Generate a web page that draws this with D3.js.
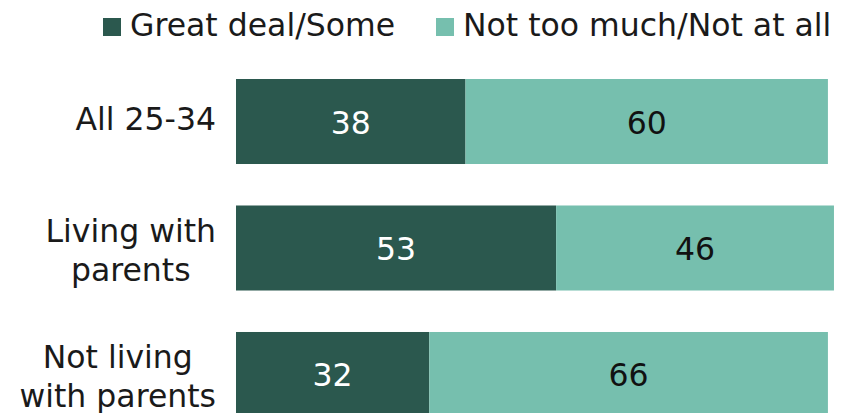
<!DOCTYPE html>
<html>
<head>
<meta charset="utf-8">
<script src="https://cdn.jsdelivr.net/npm/d3@7"></script>
<style>
  html, body { margin: 0; padding: 0; background: #ffffff; }
  svg { display: block; }
  text { font-family: "DejaVu Sans", Verdana, sans-serif; }
</style>
</head>
<body>
<svg id="chart" width="848" height="413"></svg>
<script>
// Groups shown on the vertical axis (line breaks as "\n")
const categories = ["All 25-34", "Living with\nparents", "Not living\nwith parents"];
// Series
const seriesNames = ["Great deal/Some", "Not too much/Not at all"];
const greatDealSome = [38, 53, 32];
const notTooMuch = [60, 46, 66];

const colors = ["#2b584e", "#76bfae"];
const labelColors = ["#ffffff", "#111111"];

const W = 848, H = 413;
const fontSize = 31.5;
const svg = d3.select("#chart");

const x = d3.scaleLinear().domain([0, 100]).range([236, 840]);
const y = d3.scaleBand().domain(categories).range([79, 417]).paddingInner(0.328).paddingOuter(0);

// Stack the two series per group
const rows = categories.map((c, i) => ({ cat: c, s0: greatDealSome[i], s1: notTooMuch[i] }));
const stacked = d3.stack().keys(["s0", "s1"])(rows);

const layers = svg.append("g").selectAll("g")
  .data(stacked).join("g")
  .attr("fill", (d, i) => colors[i]);

layers.selectAll("rect")
  .data(d => d)
  .join("rect")
  .attr("x", d => x(d[0]))
  .attr("width", d => x(d[1]) - x(d[0]))
  .attr("y", d => y(d.data.cat))
  .attr("height", y.bandwidth());

// Value labels centred in each segment
stacked.forEach((layer, li) => {
  svg.append("g").selectAll("text")
    .data(layer).join("text")
    .attr("x", d => (x(d[0]) + x(d[1])) / 2)
    .attr("y", d => y(d.data.cat) + y.bandwidth() / 2 + 12)
    .attr("text-anchor", "middle")
    .attr("font-size", fontSize)
    .attr("fill", labelColors[li])
    .text(d => d[1] - d[0]);
});

// Category axis: no domain line, no ticks; multi-line labels centred per line
const axis = svg.append("g")
  .attr("transform", "translate(216,0)")
  .call(d3.axisLeft(y).tickSize(0).tickPadding(0));
axis.select(".domain").remove();
axis.selectAll(".tick text").each(function (d) {
  const t = d3.select(this);
  const lines = d.split("\n");
  t.text(null)
    .attr("fill", "#1a1a1a")
    .attr("font-size", fontSize)
    .attr("font-family", "DejaVu Sans, Verdana, sans-serif")
    .attr("dy", null)
    .attr("x", 0);
  const lineH = 38.5;
  const firstY = y.bandwidth() / 2 + 8 - (lines.length - 1) * 14 - y.bandwidth() / 2;
  const spans = lines.map((ln, k) =>
    t.append("tspan").attr("y", firstY + k * lineH).text(ln));
  const widths = spans.map(s => s.node().getComputedTextLength());
  const maxW = d3.max(widths);
  t.attr("text-anchor", "middle");
  spans.forEach(s => s.attr("x", -maxW / 2));
});

// Legend
const legendX = [103, 436];
const legend = svg.append("g").selectAll("g")
  .data(seriesNames).join("g")
  .attr("transform", (d, i) => `translate(${legendX[i]},0)`);
legend.append("rect")
  .attr("x", 0).attr("y", 18).attr("width", 18).attr("height", 18)
  .attr("fill", (d, i) => colors[i]);
legend.append("text")
  .attr("x", 27).attr("y", 36)
  .attr("font-size", fontSize)
  .attr("fill", "#1a1a1a")
  .text(d => d);
</script>
</body>
</html>
